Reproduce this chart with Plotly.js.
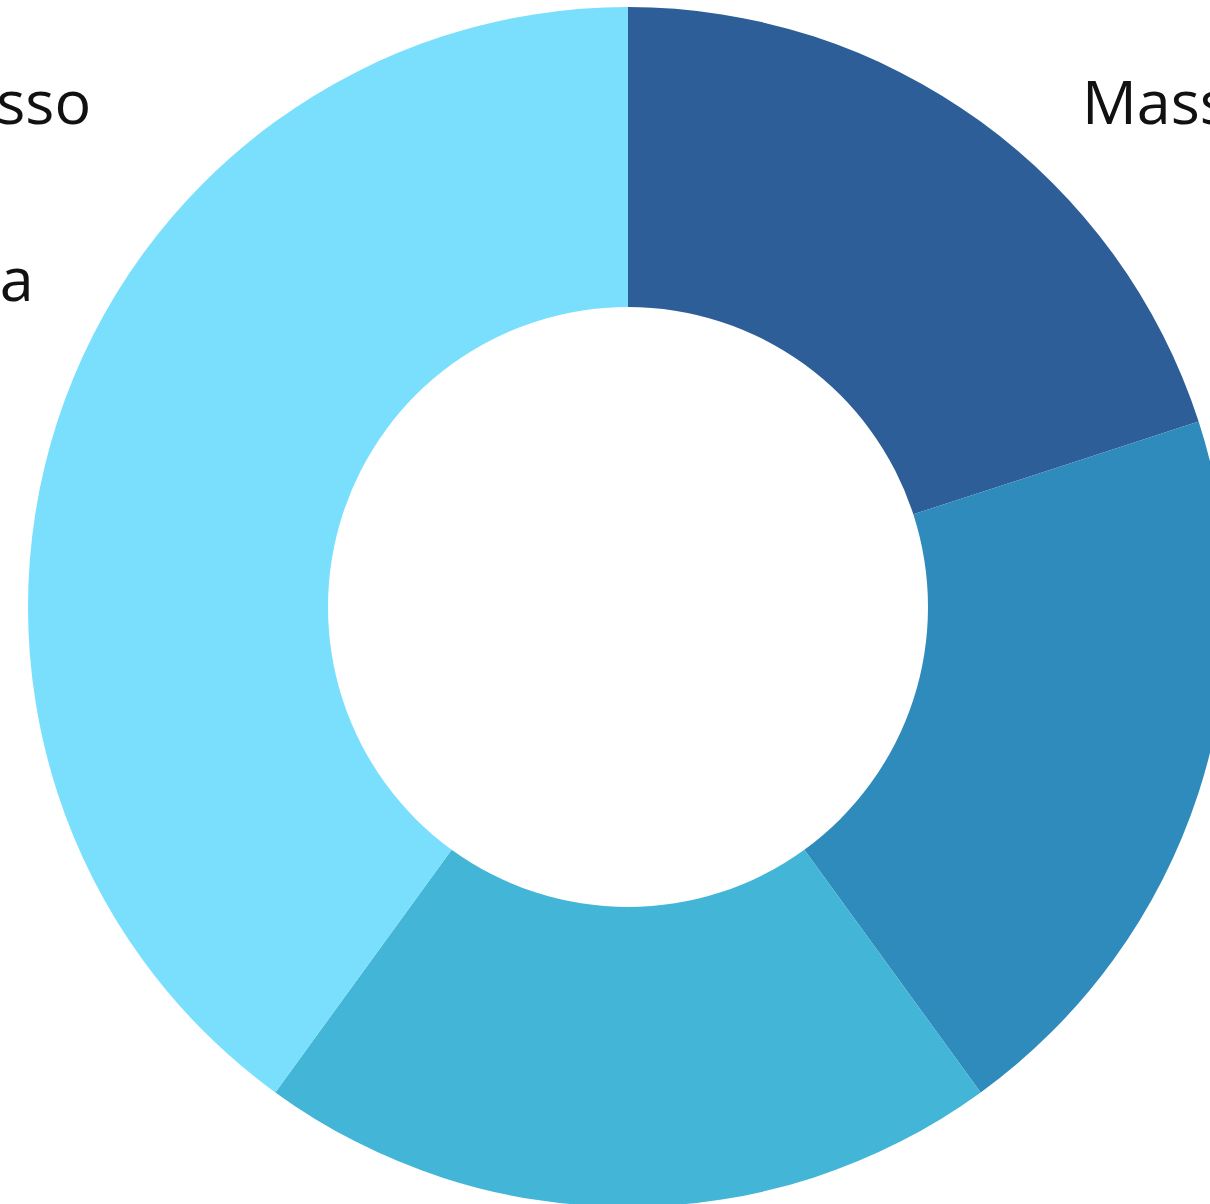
<!DOCTYPE html>
<html>
<head>
<meta charset="utf-8">
<script src="https://cdn.plot.ly/plotly-3.0.1.min.js"></script>
<style>
html, body { margin: 0; padding: 0; overflow: hidden; background: #ffffff; }
#chart { width: 1260px; height: 1214px; }
</style>
</head>
<body>
<div id="chart"></div>
<script>
// Data
const sliceLabels = ["Massimo", "Alto", "Medio", "Basso"];
const sliceValues = [20, 20, 20, 40];
const sliceColors = ["#2D5E98", "#2E8BBB", "#43B5D6", "#79DFFD"];

const noteTexts = ["Basso", "Media", "Massimo"];

const trace = {
  type: "pie",
  labels: sliceLabels,
  values: sliceValues,
  hole: 0.5,
  sort: false,
  direction: "clockwise",
  rotation: 0,
  textinfo: "none",
  hoverinfo: "label+percent",
  marker: { colors: sliceColors, line: { width: 0 } },
  showlegend: false
};

const layout = {
  width: 1260,
  height: 1214,
  margin: { l: 28, r: 32, t: 7, b: 7 },
  paper_bgcolor: "#ffffff",
  plot_bgcolor: "#ffffff",
  font: { family: "Open Sans, DejaVu Sans, sans-serif", color: "#111111" },
  annotations: [
    { text: noteTexts[0], xref: "paper", yref: "paper", x: 0.054, y: 0.922,
      xanchor: "right", yanchor: "middle", showarrow: false,
      font: { size: 61, color: "#111111" } },
    { text: noteTexts[1], xref: "paper", yref: "paper", x: 0.0065, y: 0.775,
      xanchor: "right", yanchor: "middle", showarrow: false,
      font: { size: 61, color: "#111111" } },
    { text: noteTexts[2], xref: "paper", yref: "paper", x: 0.8765, y: 0.922,
      xanchor: "left", yanchor: "middle", showarrow: false,
      font: { size: 61, color: "#111111" } }
  ]
};

Plotly.newPlot("chart", [trace], layout, { displayModeBar: false, responsive: false });
</script>
</body>
</html>
